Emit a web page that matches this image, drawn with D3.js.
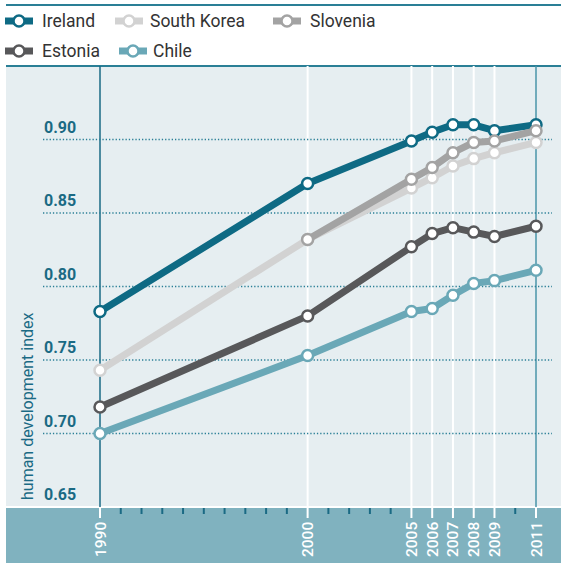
<!DOCTYPE html>
<html>
<head>
<meta charset="utf-8">
<script src="https://cdn.jsdelivr.net/npm/d3@7"></script>
<style>
  body { margin: 0; background: #fff; }
  text { font-family: Roboto, "DejaVu Sans", sans-serif; }
</style>
</head>
<body>
<div id="chart"></div>
<script>
var svgWidth = 561;
var svgHeight = 563;

// data
var years = [1990, 2000, 2005, 2006, 2007, 2008, 2009, 2011];
var minorYears = [1991, 1992, 1993, 1994, 1995, 1996, 1997, 1998, 1999, 2001, 2002, 2003, 2004, 2010];
var yTicks = [0.65, 0.70, 0.75, 0.80, 0.85, 0.90];
var countries = ["Ireland", "South Korea", "Slovenia", "Estonia", "Chile"];
var colors = ["#0e6a84", "#d2d2d2", "#a3a3a3", "#58585a", "#6aa8b7"];

var ireland = [0.783, 0.870, 0.899, 0.905, 0.910, 0.910, 0.906, 0.910];
var southKorea = [0.743, 0.832, 0.867, 0.874, 0.882, 0.887, 0.891, 0.898];
var slovenia = [null, 0.832, 0.873, 0.881, 0.891, 0.898, 0.899, 0.906];
var estonia = [0.718, 0.780, 0.827, 0.836, 0.840, 0.837, 0.834, 0.841];
var chile = [0.700, 0.753, 0.783, 0.785, 0.794, 0.802, 0.804, 0.811];

var seriesValues = [ireland, southKorea, slovenia, estonia, chile];

var plot = { left: 6, right: 561, top: 66, bottom: 507 };
var teal = "#2a7f96";
var darkTeal = "#1a6a84";

var svg = d3.select("#chart")
    .append("svg")
    .attr("width", svgWidth)
    .attr("height", svgHeight);

// scales
var xScale = d3.scaleLinear()
    .domain([1990, 2011])
    .range([100, 536]);

var yScale = d3.scaleLinear()
    .domain([0.65, 0.95])
    .range([plot.bottom, plot.top]);

// backgrounds
svg.append("rect")
    .attr("x", plot.left)
    .attr("y", plot.top)
    .attr("width", plot.right - plot.left)
    .attr("height", plot.bottom - plot.top)
    .attr("fill", "#e6eef1");

svg.append("rect")
    .attr("x", plot.left)
    .attr("y", plot.bottom)
    .attr("width", plot.right - plot.left)
    .attr("height", svgHeight - plot.bottom)
    .attr("fill", "#80b2bf");

// top rules
svg.append("line")
    .attr("x1", plot.left).attr("x2", plot.right)
    .attr("y1", 5).attr("y2", 5)
    .attr("stroke", teal)
    .attr("stroke-width", 2);

svg.append("line")
    .attr("x1", plot.left).attr("x2", plot.right)
    .attr("y1", plot.top).attr("y2", plot.top)
    .attr("stroke", teal)
    .attr("stroke-width", 2);

// white line at top of axis band
svg.append("line")
    .attr("x1", plot.left).attr("x2", plot.right)
    .attr("y1", plot.bottom).attr("y2", plot.bottom)
    .attr("stroke", "#fff")
    .attr("stroke-width", 2);

// vertical year lines
svg.selectAll("line.vline")
    .data(years)
    .enter()
    .append("line")
    .classed("vline", true)
    .attr("x1", d => xScale(d))
    .attr("x2", d => xScale(d))
    .attr("y1", plot.top)
    .attr("y2", plot.bottom)
    .attr("stroke", d => d === 1990 ? darkTeal : (d === 2011 ? "#4a95a8" : "#fff"))
    .attr("stroke-width", d => (d === 1990 || d === 2011) ? 1.5 : 2);

// major ticks in the band
svg.selectAll("line.major")
    .data(years)
    .enter()
    .append("line")
    .classed("major", true)
    .attr("x1", d => xScale(d))
    .attr("x2", d => xScale(d))
    .attr("y1", plot.bottom)
    .attr("y2", plot.bottom + 11)
    .attr("stroke", "#fff")
    .attr("stroke-width", 2);

// minor ticks
svg.selectAll("line.minor")
    .data(minorYears)
    .enter()
    .append("line")
    .classed("minor", true)
    .attr("x1", d => xScale(d))
    .attr("x2", d => xScale(d))
    .attr("y1", plot.bottom + 1)
    .attr("y2", plot.bottom + 7)
    .attr("stroke", darkTeal)
    .attr("stroke-width", 2);

// year labels
svg.selectAll("text.year")
    .data(years)
    .enter()
    .append("text")
    .classed("year", true)
    .attr("transform", d => `translate(${xScale(d) + 5.5}, 557) rotate(-90)`)
    .attr("fill", "#fff")
    .style("font-size", "15.5px")
    .style("font-weight", "500")
    .text(d => d);

// dotted gridlines
svg.selectAll("line.grid")
    .data(yTicks.filter(d => d > 0.65))
    .enter()
    .append("line")
    .classed("grid", true)
    .attr("x1", 43)
    .attr("x2", 552)
    .attr("y1", d => yScale(d))
    .attr("y2", d => yScale(d))
    .attr("stroke", teal)
    .attr("stroke-width", 1.3)
    .attr("stroke-dasharray", "1.3,2");

// y tick labels
svg.selectAll("text.ytick")
    .data(yTicks)
    .enter()
    .append("text")
    .classed("ytick", true)
    .attr("x", 44)
    .attr("y", d => yScale(d) - 7)
    .attr("fill", darkTeal)
    .style("font-size", "16px")
    .style("font-weight", "bold")
    .text(d => d.toFixed(2));

// y axis title
svg.append("text")
    .attr("transform", "translate(33, 500) rotate(-90)")
    .attr("fill", darkTeal)
    .style("font-size", "16px")
    .text("human development index");

// lines and markers
var line = d3.line()
    .defined(d => d.v !== null)
    .x(d => xScale(d.year))
    .y(d => yScale(d.v));

countries.forEach(function(name, i) {
    var pts = years.map((y, j) => ({ year: y, v: seriesValues[i][j] }));

    svg.append("path")
        .datum(pts)
        .attr("d", line)
        .attr("fill", "none")
        .attr("stroke", colors[i])
        .attr("stroke-width", 7)
        .attr("stroke-linejoin", "round");

    svg.selectAll("circle.c" + i)
        .data(pts.filter(d => d.v !== null))
        .enter()
        .append("circle")
        .classed("c" + i, true)
        .attr("cx", d => xScale(d.year))
        .attr("cy", d => yScale(d.v))
        .attr("r", 5.5)
        .attr("fill", "#fff")
        .attr("stroke", colors[i])
        .attr("stroke-width", 2.5);
});

// legend
var legendPos = [
    { x: 5, y: 21 }, { x: 115, y: 21 }, { x: 273, y: 21 },
    { x: 5, y: 51 }, { x: 119, y: 51 }
];

var legend = svg.selectAll("g.legend")
    .data(countries)
    .enter()
    .append("g")
    .classed("legend", true)
    .attr("transform", (d, i) => `translate(${legendPos[i].x}, ${legendPos[i].y})`);

legend.append("line")
    .attr("x1", 0).attr("x2", 28)
    .attr("y1", 0).attr("y2", 0)
    .attr("stroke", (d, i) => colors[i])
    .attr("stroke-width", 7);

legend.append("circle")
    .attr("cx", 14)
    .attr("cy", 0)
    .attr("r", 5.5)
    .attr("fill", "#fff")
    .attr("stroke", (d, i) => colors[i])
    .attr("stroke-width", 2.5);

legend.append("text")
    .attr("x", (d, i) => i === 4 ? 34 : (i === 1 ? 35 : 37))
    .attr("y", 6)
    .attr("fill", "#333")
    .style("font-size", "17.5px")
    .text(d => d);
</script>
</body>
</html>
